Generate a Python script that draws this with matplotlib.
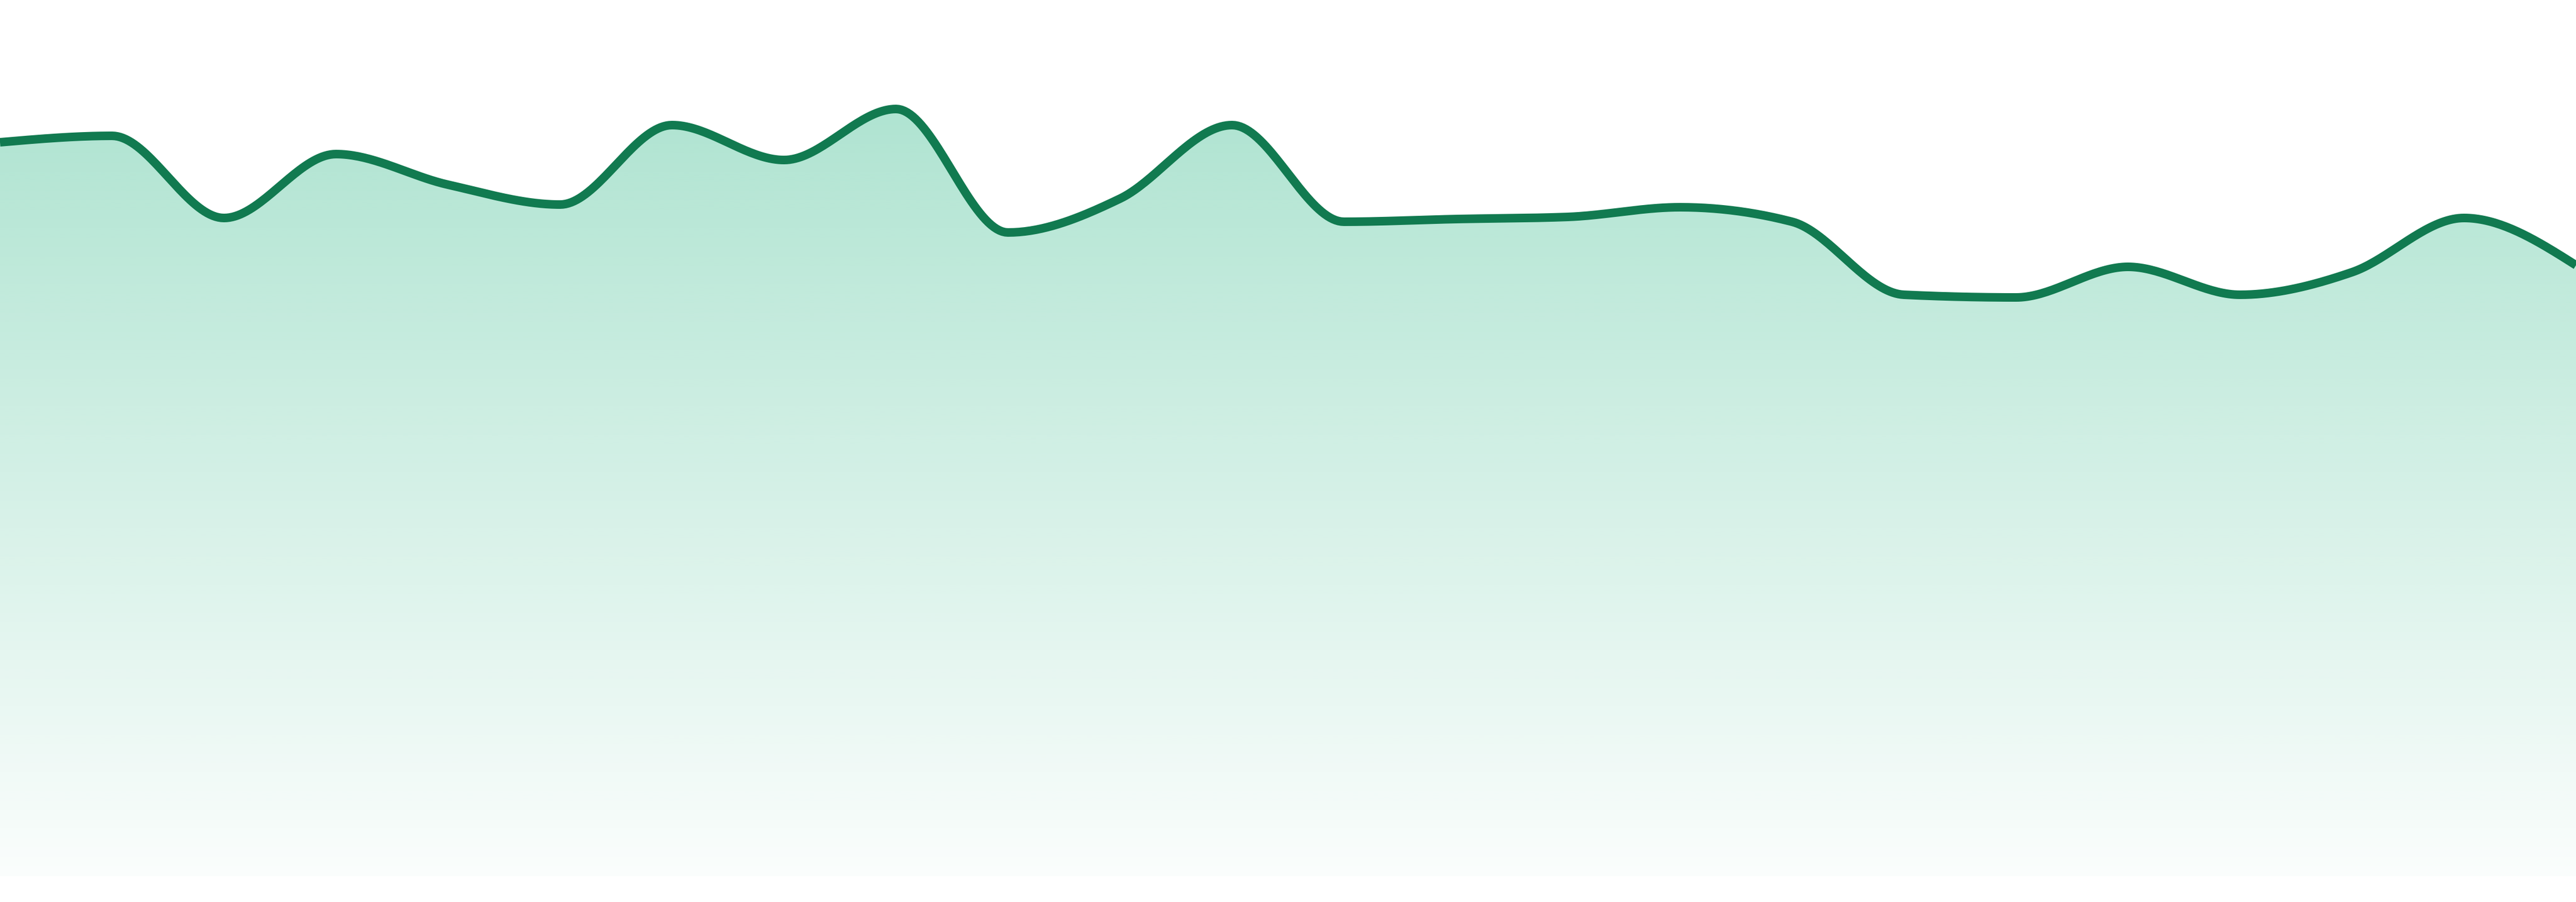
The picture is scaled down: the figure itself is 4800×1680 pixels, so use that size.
import numpy as np
import matplotlib
matplotlib.use("Agg")
import matplotlib.pyplot as plt
from matplotlib.patches import Polygon

# values (24 evenly spaced samples)
values = [1367, 1379, 1226, 1345, 1288, 1251, 1399, 1334, 1429, 1199, 1262, 1399,
          1219, 1224, 1228, 1246, 1219, 1083, 1078, 1135, 1083, 1125, 1226, 1138]
y_max = 1632

line_color = "#117a50"
fill_rgb = (20 / 255, 175 / 255, 120 / 255)


def monotone_x(xs, ys, n=40):
    # same idea as d3.curveMonotoneX
    xs = np.asarray(xs, float)
    ys = np.asarray(ys, float)
    h = np.diff(xs)
    s = np.diff(ys) / h
    t = np.zeros(len(xs))
    for i in range(1, len(xs) - 1):
        p = (s[i - 1] * h[i] + s[i] * h[i - 1]) / (h[i - 1] + h[i])
        t[i] = (np.sign(s[i - 1]) + np.sign(s[i])) * min(abs(s[i - 1]), abs(s[i]), 0.5 * abs(p))
    t[0] = (3 * s[0] - t[1]) / 2
    t[-1] = (3 * s[-1] - t[-2]) / 2
    px, py = [], []
    u = np.linspace(0, 1, n, endpoint=False)
    for i in range(len(xs) - 1):
        dx = h[i] / 3
        x0, x1 = xs[i], xs[i + 1]
        y0, y1 = ys[i], ys[i + 1]
        c = [(x0, y0), (x0 + dx, y0 + dx * t[i]), (x1 - dx, y1 - dx * t[i + 1]), (x1, y1)]
        b = [(1 - u) ** 3, 3 * u * (1 - u) ** 2, 3 * u ** 2 * (1 - u), u ** 3]
        px.append(sum(b[k] * c[k][0] for k in range(4)))
        py.append(sum(b[k] * c[k][1] for k in range(4)))
    px.append([xs[-1]])
    py.append([ys[-1]])
    return np.concatenate(px), np.concatenate(py)


x = np.arange(len(values))
cx, cy = monotone_x(x, values)

fig = plt.figure(figsize=(16, 5.6), dpi=300)
ax = fig.add_axes([0, 48 / 1680, 1, y_max / 1680])
ax.set_xlim(0, len(values) - 1)
ax.set_ylim(0, y_max)
ax.axis("off")

# gradient fill under the curve
grad = np.zeros((256, 2, 4))
grad[..., 0], grad[..., 1], grad[..., 2] = fill_rgb
alpha = np.linspace(0.02, 0.385, 256)
grad[..., 3] = alpha[:, None]
im = ax.imshow(grad, extent=[0, len(values) - 1, 0, y_max], origin="lower",
               aspect="auto", interpolation="bilinear", zorder=1)
poly = Polygon(np.column_stack([np.r_[cx, cx[-1], cx[0]], np.r_[cy, 0, 0]]),
               closed=True, facecolor="none", edgecolor="none")
ax.add_patch(poly)
im.set_clip_path(poly)

ax.plot(cx, cy, color=line_color, lw=3.84, solid_capstyle="butt", zorder=2)

fig.savefig("out.png", dpi=300)
